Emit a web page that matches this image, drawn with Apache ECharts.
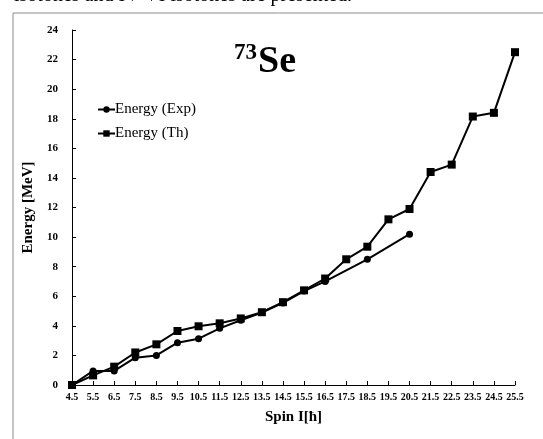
<!DOCTYPE html>
<html>
<head>
<meta charset="utf-8">
<script src="https://cdn.jsdelivr.net/npm/echarts@6/dist/echarts.min.js"></script>
<style>
html, body { margin: 0; padding: 0; background: #fff; }
#main { width: 543px; height: 439px; }
</style>
</head>
<body>
<div id="main"></div>
<script>
// spin values (x axis)
var spins = ['4.5', '5.5', '6.5', '7.5', '8.5', '9.5', '10.5', '11.5', '12.5', '13.5', '14.5',
    '15.5', '16.5', '17.5', '18.5', '19.5', '20.5', '21.5', '22.5', '23.5', '24.5', '25.5'];
// experimental energies (MeV), null where no level
var energyExp = [0, 0.95, 0.95, 1.85, 2.0, 2.86, 3.13, 3.83, 4.38, 4.9, 5.55,
    6.35, 7.0, null, 8.5, null, 10.2, null, null, null, null, null];
// theoretical energies (MeV)
var energyTh = [0, 0.65, 1.24, 2.2, 2.75, 3.65, 3.97, 4.17, 4.5, 4.92, 5.6,
    6.4, 7.2, 8.5, 9.35, 11.2, 11.9, 14.4, 14.9, 18.15, 18.4, 22.5];

window.onload = () => {
    var chartDom = document.getElementById('main');
    var myChart = echarts.init(chartDom);
    var serif = '"Liberation Serif", "DejaVu Serif", serif';
    var option;
    option = {
        animation: false,
        backgroundColor: '#fff',
        textStyle: { fontFamily: serif, color: '#000' },
        graphic: [
            {
                type: 'rect',
                shape: { x: 13, y: 13, width: 600, height: 500 },
                style: { fill: 'none', stroke: '#8a8a8a', lineWidth: 1 }
            },
            {
                type: 'text',
                left: 14, top: -14,
                style: { text: 'isotones and IV-VI isotones are presented.', font: '20px ' + serif, fill: '#000' }
            },
            {
                type: 'text',
                left: 234, top: 42,
                style: { text: '73', font: 'bold 23px ' + serif, fill: '#000' }
            },
            {
                type: 'text',
                left: 258, top: 43,
                style: { text: 'Se', font: 'bold 38px ' + serif, fill: '#000' }
            }
        ],
        legend: {
            orient: 'vertical',
            left: 92,
            top: 97,
            itemWidth: 17,
            itemHeight: 8,
            itemGap: 9,
            textStyle: { fontFamily: serif, fontSize: 15, color: '#000', padding: [0, 0, 0, -5] },
            data: ['Energy (Exp)', 'Energy (Th)']
        },
        grid: {
            left: 72,
            right: 28,
            top: 30,
            bottom: 54
        },
        xAxis: [{
            type: 'category',
            boundaryGap: false,
            data: spins,
            name: 'Spin I[ħ]',
            nameLocation: 'middle',
            nameGap: 25,
            nameTextStyle: { fontFamily: serif, fontWeight: 'bold', fontSize: 15, color: '#000' },
            axisLine: { lineStyle: { color: '#000', width: 1 } },
            axisTick: { inside: true, length: 4, alignWithLabel: true, lineStyle: { color: '#000' } },
            axisLabel: { interval: 0, margin: 7, fontFamily: serif, fontWeight: 'bold', fontSize: 10, color: '#000' },
            splitLine: { show: false }
        }],
        yAxis: [{
            type: 'value',
            min: 0,
            max: 24,
            interval: 2,
            name: 'Energy [MeV]',
            nameLocation: 'middle',
            nameGap: 32,
            nameTextStyle: { fontFamily: serif, fontWeight: 'bold', fontSize: 15, color: '#000' },
            axisLine: { show: true, lineStyle: { color: '#000', width: 1 } },
            axisTick: { show: true, inside: true, length: 4, lineStyle: { color: '#000' } },
            axisLabel: { margin: 14, fontFamily: serif, fontWeight: 'bold', fontSize: 11, color: '#000' },
            splitLine: { show: false }
        }],
        series: [{
                name: 'Energy (Exp)',
                type: 'line',
                connectNulls: true,
                symbol: 'circle',
                symbolSize: 7,
                itemStyle: { color: '#000' },
                lineStyle: { color: '#000', width: 2 },
                data: energyExp
            },
            {
                name: 'Energy (Th)',
                type: 'line',
                symbol: 'rect',
                symbolSize: 8,
                itemStyle: { color: '#000' },
                lineStyle: { color: '#000', width: 2 },
                data: energyTh
            }
        ]
    };
    option && myChart.setOption(option);
}
</script>
</body>
</html>
